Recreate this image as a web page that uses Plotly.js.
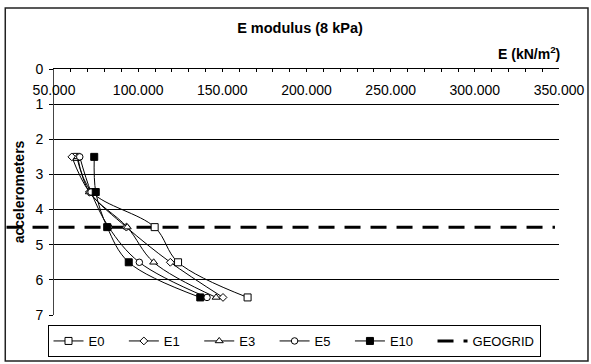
<!DOCTYPE html>
<html>
<head>
<meta charset="utf-8">
<script src="https://cdn.plot.ly/plotly-3.0.1.min.js"></script>
<style>html,body{margin:0;padding:0;background:#fff;}#chart{width:591px;height:364px;}</style>
</head>
<body>
<div id="chart"></div>
<script>
// Depth of accelerometers (rows)
const depth = [2.5, 3.5, 4.5, 5.5, 6.5];
// E modulus values (kN/m2)
const E0  = [63500, 72500, 109800, 123700, 165000];
const E1  = [60600, 71000,  93000, 119100, 150400];
const E3  = [64000, 71000,  93500, 109200, 146300];
const E5  = [65300, 72000,  82500, 100700, 140900];
const E10 = [73900, 74800,  81600,  94400, 136900];
const seriesNames = ['E0', 'E1', 'E3', 'E5', 'E10'];
const geogridName = 'GEOGRID';
const geogridDepth = [4.5];
const xTickStart = 50000, xTickEnd = 350000;

const FONT = 'Arial, "Liberation Sans", Helvetica, sans-serif';
const seriesData = [E0, E1, E3, E5, E10];
const symbols = ['square', 'diamond', 'triangle-up', 'circle', 'square'];
const sizes = [7, 6, 7, 6.5, 7];
const fills = ['#fff', '#fff', '#fff', '#fff', '#000'];
const pad = n => '\u00a0'.repeat(n);
const pads = [4, 4, 4, 4, 4];

const traces = seriesData.map((vals, i) => ({
  type: 'scatter', mode: 'lines+markers', name: seriesNames[i] + pad(pads[i]),
  x: vals, y: depth,
  line: {color: '#000', width: 1, shape: 'spline', smoothing: 1},
  marker: {symbol: symbols[i], size: sizes[i], color: fills[i], line: {color: '#000', width: 1}},
  cliponaxis: false
}));
traces.push({
  type: 'scatter', mode: 'lines', name: geogridName,
  x: [null], y: [null],
  line: {color: '#000', width: 3, dash: '16px,10px'}
});

const layout = {
  width: 591, height: 364,
  margin: {l: 54, r: 32, t: 69, b: 49, autoexpand: false},
  paper_bgcolor: '#fff', plot_bgcolor: '#fff',
  separators: ',.',
  font: {family: FONT, color: '#000', size: 13.5},
  showlegend: true,
  title: {text: 'E modulus (8 kPa)', x: 300/591, xref: 'container', xanchor: 'center',
          y: 1 - 28/364, yref: 'container', yanchor: 'middle',
          font: {family: FONT, size: 14.5, weight: 'bold', color: '#000'}},
  xaxis: {
    side: 'top', range: [xTickStart, xTickEnd], tick0: xTickStart, dtick: 50000,
    tickformat: ',d', ticks: 'inside', ticklen: 3, tickcolor: '#000', tickwidth: 1,
    ticklabelposition: 'inside', ticklabeloverflow: 'allow', ticklabelstandoff: 13,
    showline: true, linecolor: '#000', linewidth: 1,
    showgrid: false, zeroline: false, automargin: false,
    tickfont: {family: FONT, size: 14, color: '#000'},
    minor: {tick0: xTickStart, dtick: 10000, ticks: 'inside', ticklen: 3, tickcolor: '#000', showgrid: false}
  },
  yaxis: {
    range: [7, 0], tick0: 0, dtick: 1,
    ticks: 'outside', ticklen: 4, tickcolor: '#000', ticklabelstandoff: 3,
    showgrid: true, gridcolor: '#000', gridwidth: 1,
    showline: true, linecolor: '#444', linewidth: 1, zeroline: false, automargin: false,
    tickfont: {family: FONT, size: 14, color: '#000'},
    title: {text: 'accelerometers', standoff: 7, font: {family: FONT, size: 14, weight: 'bold', color: '#000'}}
  },
  legend: {
    orientation: 'h', xref: 'container', yref: 'container',
    x: 294/591, xanchor: 'center', y: 1 - 341/364, yanchor: 'middle',
    bordercolor: '#000', borderwidth: 1, bgcolor: '#fff',
    font: {family: FONT, size: 13, color: '#000'},
    itemwidth: 30
  },
  annotations: [{
    text: 'E (kN/m<sup>2</sup>)', xref: 'paper', yref: 'paper', x: 1.006, y: 1.065,
    xanchor: 'right', yanchor: 'middle', showarrow: false,
    font: {family: FONT, size: 14, weight: 'bold', color: '#000'}
  }],
  shapes: [
    {type: 'line', xref: 'paper', yref: 'y', x0: -0.094, x1: 0.992, y0: geogridDepth[0], y1: geogridDepth[0],
     line: {color: '#000', width: 3, dash: '16px,10px'}, layer: 'between'},
    {type: 'rect', xref: 'paper', yref: 'paper', x0: -0.0965, x1: 1.0574, y0: -0.187, y1: 1.248,
     line: {color: '#222', width: 1.5}, fillcolor: 'rgba(0,0,0,0)', layer: 'above'}
  ],
  hovermode: false
};

Plotly.newPlot('chart', traces, layout, {displayModeBar: false, staticPlot: true});
</script>
</body>
</html>
